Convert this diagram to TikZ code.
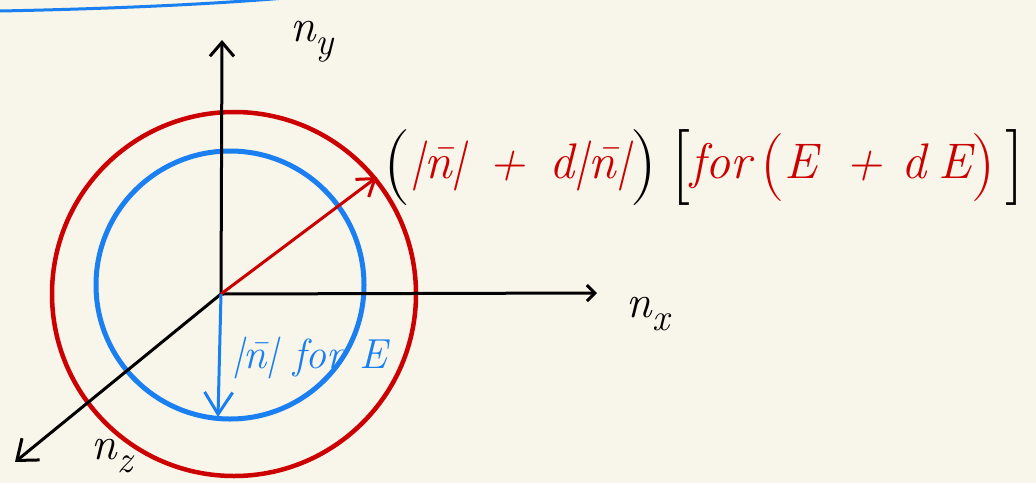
\documentclass[tikz,border=0pt]{standalone}
\usepackage{tikz}
\usetikzlibrary{arrows.meta, positioning}

\definecolor{paper}{HTML}{F8F5EA}
\definecolor{inkred}{HTML}{CC0000}
\definecolor{inkblue}{HTML}{1A7FF0}

\newcommand{\nbar}{\={n}}
\newcommand{\sub}[1]{\raisebox{-13pt}{\fontsize{38}{38}\selectfont #1}}
\newcommand{\bigbr}[1]{\textcolor{black}{\raisebox{-8pt}{\fontsize{76}{76}\selectfont\upshape #1}}}
\newcommand{\redbr}[1]{\raisebox{-6pt}{\fontsize{68}{68}\selectfont\upshape #1}}

\begin{document}
\begin{tikzpicture}[
  x=1pt, y=-1pt,
  axis/.style={line width=3pt, -{Straight Barb[length=14pt, width=24pt, line width=3pt]}},
  shell/.style={line width=4.5pt},
  rvec/.style={line width=3pt, -{Straight Barb[length=16pt, width=22pt, line width=3pt]}},
  lbl/.style={inner sep=0pt, font=\fontsize{46}{52}\selectfont\itshape}
]
\fill[paper] (0,0) rectangle (1036,483);
\useasboundingbox (0,0) rectangle (1036,483);

% underline left over from the page above
\draw[inkblue, line width=3pt] (0,11) .. controls (100,9) and (200,5) .. (285,-2);

\coordinate (O) at (221,294);
\coordinate (Y) at (222,40);
\coordinate (X) at (597,293);
\coordinate (Z) at (15,462);

% the two shells
\draw[shell, inkred] (234,294) circle[radius=182pt];
\draw[shell, inkblue, line width=5pt] (230,285) circle[radius=134pt];

% axes
\draw[axis] (O) -- (Y);
\draw[axis, -{Straight Barb[length=8pt, width=16pt, line width=3pt]}] (O) -- (X);
\draw[axis, -{Straight Barb[length=18pt, width=28pt, line width=3pt]}] (O) -- (Z);

\node[lbl] (ny) at (312,42) {n\sub{y}};
\node[lbl] (nx) at (648,314) {n\sub{x}};
\node[lbl] (nz) at (112,456) {n\sub{z}};

% radii
\coordinate (R) at (377,177);
\coordinate (B) at (218,417);
\draw[rvec, inkred] (O) -- (R);
\draw[rvec, inkblue, -{Straight Barb[length=22pt, width=28pt, line width=3pt]}] (O) -- (B);

\node[lbl, anchor=west, text=inkred, font=\fontsize{50}{56}\selectfont\itshape] (big) at (383,168)
  {\bigbr{(}|\nbar|\hspace{6pt} + \hspace{6pt}d|\nbar|\bigbr{)}\hspace{14pt}\bigbr{[}for\hspace{10pt}\redbr{(}E\hspace{28pt}+\hspace{18pt}d\hspace{12pt}E\redbr{)}\hspace{10pt}\bigbr{]}};
\node[lbl, anchor=west, text=inkblue, font=\fontsize{42}{48}\selectfont\itshape] (small) at (232,358)
  {|\nbar| for E};
\end{tikzpicture}
\end{document}
